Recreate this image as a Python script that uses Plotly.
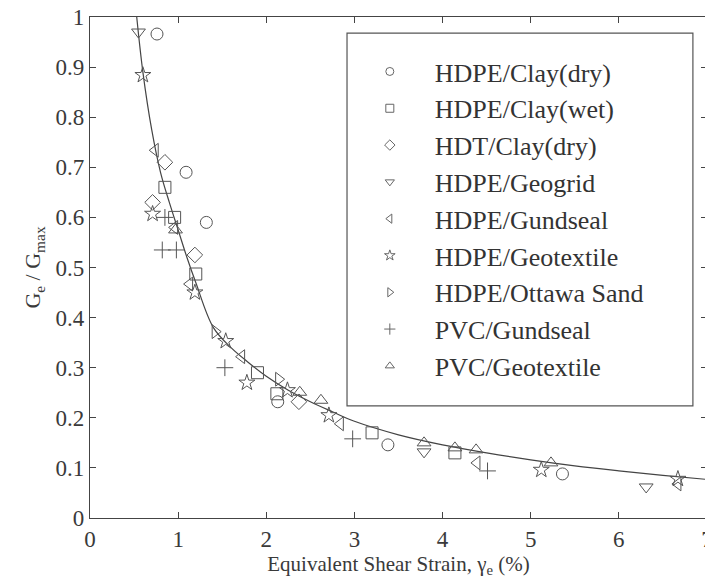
import plotly.graph_objects as go

# ---- data ----
series_names = ["HDPE/Clay(dry)", "HDPE/Clay(wet)", "HDT/Clay(dry)", "HDPE/Geogrid",
                "HDPE/Gundseal", "HDPE/Geotextile", "HDPE/Ottawa Sand",
                "PVC/Gundseal", "PVC/Geotextile"]

clay_dry_x = [0.76, 1.09, 1.32, 2.13, 3.38, 5.36]
clay_dry_y = [0.966, 0.69, 0.59, 0.232, 0.146, 0.088]

clay_wet_x = [0.85, 0.96, 1.20, 1.90, 2.12, 3.20, 4.14]
clay_wet_y = [0.66, 0.60, 0.487, 0.29, 0.248, 0.17, 0.13]

hdt_dry_x = [0.85, 0.71, 1.19, 2.37]
hdt_dry_y = [0.71, 0.63, 0.525, 0.232]

geogrid_x = [0.55, 3.79, 6.31]
geogrid_y = [0.97, 0.132, 0.062]

gundseal_x = [0.74, 0.96, 1.13, 1.72, 2.84, 4.39, 6.67]
gundseal_y = [0.734, 0.58, 0.467, 0.322, 0.188, 0.11, 0.068]

geotextile_x = [0.60, 0.71, 1.19, 1.54, 1.78, 2.24, 2.71, 5.12, 6.67]
geotextile_y = [0.884, 0.607, 0.45, 0.353, 0.27, 0.255, 0.205, 0.096, 0.078]

ottawa_x = [1.42, 2.14]
ottawa_y = [0.372, 0.277]

pvc_gund_x = [0.85, 0.82, 0.98, 1.53, 2.98, 4.51]
pvc_gund_y = [0.60, 0.535, 0.535, 0.30, 0.158, 0.094]

pvc_geo_x = [0.97, 2.38, 2.62, 3.79, 4.14, 4.38, 5.23]
pvc_geo_y = [0.575, 0.251, 0.235, 0.15, 0.14, 0.136, 0.11]

# fitted curve, read point by point
curve_x = [0.53, 0.6, 0.7, 0.8, 0.9, 1.0, 1.1, 1.2, 1.4, 1.6, 1.8, 2.0, 2.25, 2.5,
           2.75, 3.0, 3.5, 4.0, 4.5, 5.0, 5.5, 6.0, 6.5, 7.0]
curve_y = [1.0, 0.89, 0.775, 0.69, 0.63, 0.575, 0.52, 0.47, 0.38, 0.34, 0.31, 0.283,
           0.255, 0.232, 0.212, 0.193, 0.166, 0.146, 0.13, 0.116, 0.104, 0.094, 0.085, 0.077]

x_ticks = [0, 1, 2, 3, 4, 5, 6, 7]
y_ticks = [0, 0.1, 0.2, 0.3, 0.4, 0.5, 0.6, 0.7, 0.8, 0.9, 1]
y_ticklabels = ["0", "0.1", "0.2", "0.3", "0.4", "0.5", "0.6", "0.7", "0.8", "0.9", "1"]

symbols = ["circle-open", "square-open", "diamond-open", "triangle-down-open",
           "triangle-left-open", "star-open", "triangle-right-open",
           "cross-thin-open", "triangle-up-open"]
xs = [clay_dry_x, clay_wet_x, hdt_dry_x, geogrid_x, gundseal_x, geotextile_x,
      ottawa_x, pvc_gund_x, pvc_geo_x]
ys = [clay_dry_y, clay_wet_y, hdt_dry_y, geogrid_y, gundseal_y, geotextile_y,
      ottawa_y, pvc_gund_y, pvc_geo_y]

INK = "#3a3a3a"
MK = "#555555"
FONT = "Liberation Serif, Times New Roman, serif"

fig = go.Figure()
fig.add_trace(go.Scatter(x=curve_x, y=curve_y, mode="lines",
                         line=dict(color="#444444", width=1.2, shape="spline", smoothing=1.0),
                         showlegend=False, hoverinfo="skip"))

for name, sx, sy, sym in zip(series_names, xs, ys, symbols):
    fig.add_trace(go.Scatter(x=sx, y=sy, mode="markers", name=name, showlegend=False,
                             marker=dict(symbol=sym, size=12, color=MK,
                                         line=dict(color=MK, width=1))))
    # legend-only entry with small symbol
    fig.add_trace(go.Scatter(x=[None], y=[None], mode="markers", name=name,
                             marker=dict(symbol=sym, size=8, color="#666666",
                                         line=dict(color="#666666", width=1))))

# legend frame
fig.add_shape(type="rect", xref="x", yref="y", x0=2.916, x1=6.84, y0=0.224, y1=0.968,
              line=dict(color="#555555", width=1.2), fillcolor="rgba(0,0,0,0)")

# the page body has an 8px margin, so the figure is sized to fit the window
fig.update_layout(
    width=705, height=573,
    margin=dict(l=82, r=6, t=9, b=63),
    paper_bgcolor="white", plot_bgcolor="white",
    font=dict(family=FONT, color=INK, size=23),
    legend=dict(x=0.413, y=0.938, xanchor="left", yanchor="top",
                bgcolor="rgba(0,0,0,0)", borderwidth=0, itemwidth=80,
                font=dict(family=FONT, size=26, color="#333333")),
    xaxis=dict(range=[0, 7], tickvals=x_ticks, ticks="inside", ticklen=6,
               showline=True, linecolor="#444444", linewidth=1.2, mirror="ticks",
               showgrid=False, zeroline=False, tickcolor="#444444", automargin=False,
               ticklabeloverflow="allow",
               tickfont=dict(size=23, family=FONT),
               title=dict(text="Equivalent Shear Strain, γ<sub>e</sub> (%)",
                          font=dict(size=21, family=FONT), standoff=3)),
    yaxis=dict(range=[0, 1], tickvals=y_ticks, ticktext=y_ticklabels, ticks="inside",
               ticklen=6, showline=True, linecolor="#444444", linewidth=1.2,
               mirror="ticks", showgrid=False, zeroline=False, tickcolor="#444444",
               automargin=False, ticklabeloverflow="allow",
               tickfont=dict(size=23, family=FONT),
               title=dict(text="G<sub>e</sub> / G<sub>max</sub>",
                          font=dict(size=22, family=FONT), standoff=8)),
)

fig.write_html("out.html")
